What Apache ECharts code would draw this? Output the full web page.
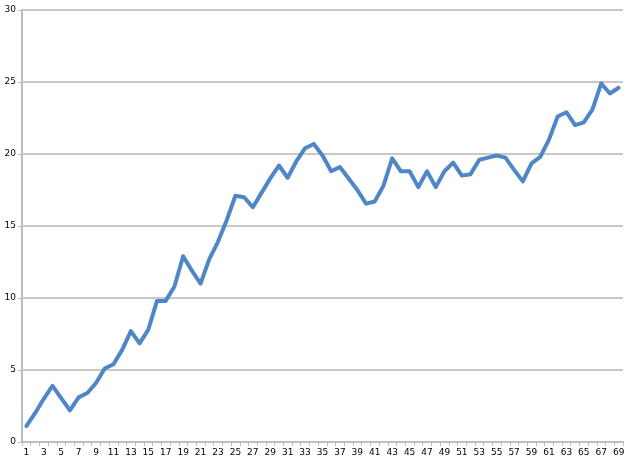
<!DOCTYPE html>
<html><head><meta charset="utf-8">
<script src="https://cdn.jsdelivr.net/npm/echarts@6/dist/echarts.min.js"></script>
<style>html,body{margin:0;padding:0;background:#fff}#c{width:632px;height:462px}</style>
</head><body><div id="c"></div>
<script>
const categories = Array.from({length: 69}, (_, i) => String(i + 1));
const values = [1.1, 2.0, 3.0, 3.9, 3.05, 2.2, 3.1, 3.4, 4.1, 5.1,
  5.4, 6.4, 7.7, 6.85, 7.8, 9.8, 9.8, 10.8, 12.9, 11.9,
  11.0, 12.7, 13.9, 15.4, 17.1, 17.0, 16.3, 17.3, 18.3, 19.2,
  18.35, 19.5, 20.4, 20.7, 19.9, 18.8, 19.1, 18.3, 17.5, 16.55,
  16.7, 17.8, 19.7, 18.8, 18.8, 17.7, 18.8, 17.7, 18.8, 19.4,
  18.5, 18.6, 19.6, 19.75, 19.9, 19.75, 18.9, 18.1, 19.35, 19.8,
  21.0, 22.6, 22.9, 22.0, 22.2, 23.1, 24.9, 24.2, 24.6];
const yTicks = {min: 0, max: 30, interval: 5};

const chart = echarts.init(document.getElementById('c'), null, {renderer: 'canvas'});
chart.setOption({
  animation: false,
  grid: {left: 22, right: 9, top: 10, bottom: 20, containLabel: false},
  xAxis: {
    type: 'category', data: categories, boundaryGap: true,
    axisLine: {lineStyle: {color: '#bdbdbd', width: 2}},
    axisTick: {show: true, interval: 0, length: 4, lineStyle: {color: '#bdbdbd', width: 1}},
    axisLabel: {interval: 1, color: '#000', fontSize: 9, fontFamily: 'DejaVu Sans', margin: 6}
  },
  yAxis: {
    type: 'value', min: yTicks.min, max: yTicks.max, interval: yTicks.interval,
    axisLine: {show: true, lineStyle: {color: '#bdbdbd', width: 2}},
    axisTick: {show: true, length: 4, lineStyle: {color: '#bdbdbd'}},
    axisLabel: {color: '#000', fontSize: 9, fontFamily: 'DejaVu Sans', margin: 6},
    splitLine: {lineStyle: {color: '#c8c8c8', width: 2}}
  },
  series: [{
    type: 'line', data: values, symbol: 'none',
    lineStyle: {color: '#4f87c6', width: 4, join: 'round', cap: 'round'}
  }]
});
</script></body></html>
